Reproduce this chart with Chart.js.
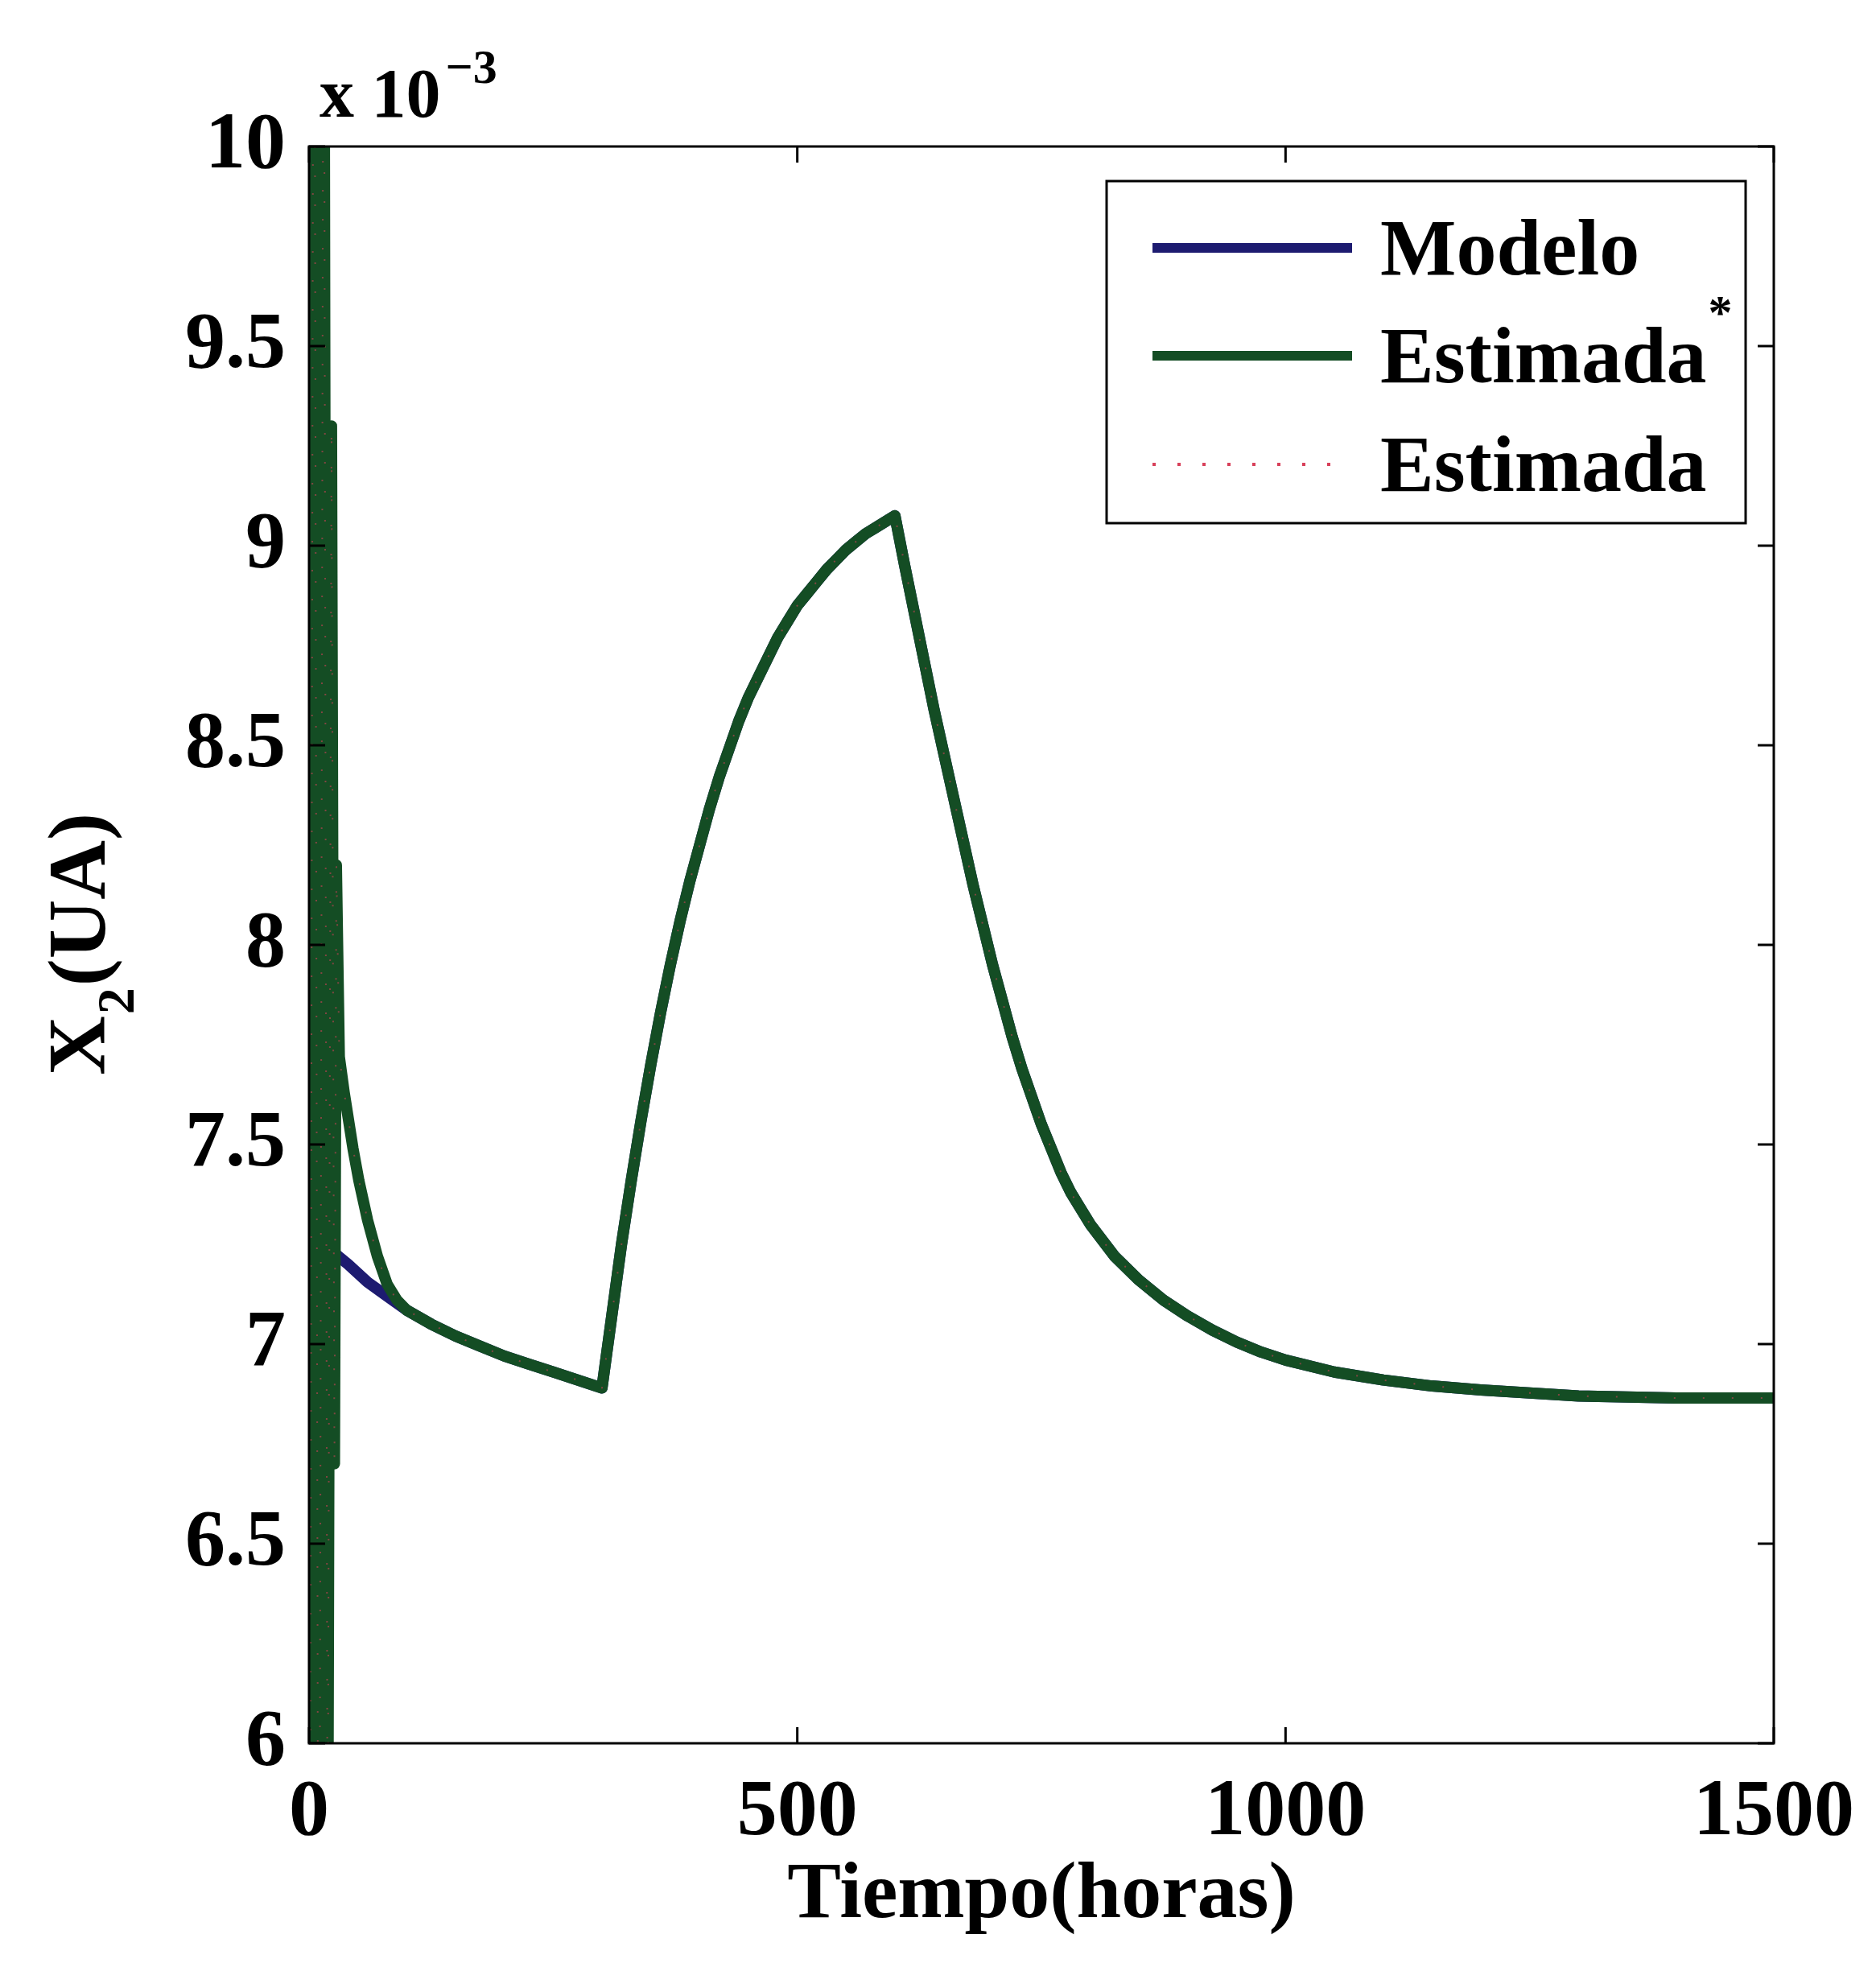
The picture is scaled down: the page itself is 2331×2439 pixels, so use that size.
<!DOCTYPE html>
<html>
<head>
<meta charset="utf-8">
<script src="https://cdn.jsdelivr.net/npm/chart.js@4.4.1/dist/chart.umd.min.js"></script>
<style>
  html, body { margin: 0; padding: 0; background: #fff; }
  canvas { display: block; }
</style>
</head>
<body>
<canvas id="grafica" width="2331" height="2439"></canvas>
<script>
// X2 (x 10^-3 UA) frente al tiempo en horas
const tiempoModelo = [0, 20, 40, 60, 80, 100, 125, 150, 175, 200, 225, 250, 275, 300,
  310, 320, 330, 340, 350, 360, 370, 380, 390, 400, 410, 420, 430, 440, 450,
  460, 470, 480, 490, 500, 510, 520, 530, 540, 550, 560, 570, 580, 590, 600,
  610, 620, 630, 640, 650, 660, 670, 680, 690, 700, 710, 720, 730, 740, 750,
  760, 770, 780, 790, 800,
  825, 850, 875, 900, 925, 950, 975, 1000, 1050, 1100, 1150, 1200, 1300, 1400, 1500];
const x2Modelo = [7.27, 7.24, 7.20, 7.155, 7.12, 7.085, 7.05, 7.02, 6.995, 6.97, 6.95, 6.93, 6.91, 6.89,
  7.07, 7.25, 7.41, 7.56, 7.70, 7.83, 7.95, 8.06, 8.16, 8.25, 8.34, 8.42, 8.49, 8.56, 8.62,
  8.67, 8.72, 8.77, 8.81, 8.85, 8.88, 8.91, 8.94, 8.965, 8.99, 9.01, 9.03, 9.045, 9.06, 9.075,
  8.95, 8.83, 8.71, 8.59, 8.48, 8.37, 8.26, 8.15, 8.05, 7.95, 7.86, 7.77, 7.69, 7.62, 7.55,
  7.49, 7.43, 7.38, 7.34, 7.30,
  7.22, 7.16, 7.11, 7.07, 7.035, 7.005, 6.98, 6.96, 6.93, 6.91, 6.895, 6.885, 6.87, 6.865, 6.865];

// estimador: transitorio inicial; desde t = 100 h coincide con el modelo
const tiempoTransitorio = [0, 5, 10, 15, 19, 23, 26, 28, 31, 36, 45, 51, 60, 70, 80, 90];
const x2Transitorio = [4.0, 11.5, 4.5, 11.0, 5.5, 9.3, 6.7, 8.2, 7.72, 7.63, 7.49, 7.41, 7.31, 7.22, 7.15, 7.11];
const desde = tiempoModelo.indexOf(100);
const tiempoEstimada = tiempoTransitorio.concat(tiempoModelo.slice(desde));
const x2EstimadaAst = x2Transitorio.concat(x2Modelo.slice(desde));
// las dos estimaciones coinciden a esta escala
const x2Estimada = x2EstimadaAst;

const xTicks = [0, 500, 1000, 1500];
const yTicks = [6, 6.5, 7, 7.5, 8, 8.5, 9, 9.5, 10];
const nombres = ['Modelo', 'Estimada', 'Estimada'];
const colores = ['#1d1b70', '#144d24', '#d8405a'];

const FUENTE = '"Liberation Serif", "Times New Roman", serif';

const puntos = (ts, vs) => ts.map((t, i) => ({ x: t, y: vs[i] }));

// marco tipo MATLAB: caja, marcas hacia dentro, leyenda, etiqueta Y y exponente
const marco = {
  id: 'marco',
  afterDatasetsDraw(chart) {
    const { ctx, chartArea: a, scales: { x, y } } = chart;
    const L = 20;
    ctx.save();
    ctx.strokeStyle = '#000';
    ctx.lineWidth = 3;
    ctx.strokeRect(a.left, a.top, a.right - a.left, a.bottom - a.top);
    ctx.beginPath();
    xTicks.forEach(v => {
      const px = x.getPixelForValue(v);
      ctx.moveTo(px, a.bottom); ctx.lineTo(px, a.bottom - L);
      ctx.moveTo(px, a.top); ctx.lineTo(px, a.top + L);
    });
    yTicks.forEach(v => {
      const py = y.getPixelForValue(v);
      ctx.moveTo(a.left, py); ctx.lineTo(a.left + L, py);
      ctx.moveTo(a.right, py); ctx.lineTo(a.right - L, py);
    });
    ctx.stroke();
    ctx.restore();
  },
  afterDraw(chart) {
    const { ctx, chartArea: a } = chart;
    ctx.save();

    // leyenda
    const caja = { l: 1375, t: 225, r: 2169, b: 650 };
    ctx.fillStyle = '#fff';
    ctx.fillRect(caja.l, caja.t, caja.r - caja.l, caja.b - caja.t);
    ctx.strokeStyle = '#000';
    ctx.lineWidth = 3;
    ctx.strokeRect(caja.l, caja.t, caja.r - caja.l, caja.b - caja.t);
    const filas = [308, 442, 577];
    chart.data.datasets.forEach((ds, i) => {
      const yy = filas[i];
      ctx.beginPath();
      ctx.strokeStyle = colores[i];
      ctx.lineWidth = i === 2 ? 4 : 12;
      ctx.setLineDash(i === 2 ? [4, 27] : []);
      ctx.moveTo(1432, yy); ctx.lineTo(1680, yy);
      ctx.stroke();
      ctx.setLineDash([]);
      ctx.fillStyle = '#000';
      ctx.font = 'bold 100px ' + FUENTE;
      ctx.textBaseline = 'alphabetic';
      ctx.textAlign = 'left';
      ctx.fillText(nombres[i], 1715, yy + 33);
      if (i === 1) {
        const w = ctx.measureText(nombres[i]).width;
        ctx.font = 'bold 60px ' + FUENTE;
        ctx.fillText('*', 1715 + w + 2, yy - 34);
      }
    });

    // etiqueta del eje Y con subíndice
    ctx.save();
    ctx.translate(130, 1336);
    ctx.rotate(-Math.PI / 2);
    ctx.fillStyle = '#000';
    ctx.textBaseline = 'alphabetic';
    ctx.textAlign = 'left';
    ctx.font = 'bold 102px ' + FUENTE;
    ctx.fillText('X', 0, 0);
    let px = ctx.measureText('X').width;
    ctx.font = 'bold 66px ' + FUENTE;
    ctx.fillText('2', px + 2, 36);
    px += ctx.measureText('2').width + 4;
    ctx.font = 'bold 102px ' + FUENTE;
    ctx.fillText('(UA)', px, 0);
    ctx.restore();

    // factor de escala sobre el eje Y
    ctx.fillStyle = '#000';
    ctx.font = 'bold 86px ' + FUENTE;
    ctx.textBaseline = 'alphabetic';
    ctx.textAlign = 'left';
    ctx.fillText('x 10', a.left + 13, 145);
    const wx = ctx.measureText('x 10').width;
    ctx.font = 'bold 60px ' + FUENTE;
    ctx.fillText('\u22123', a.left + 13 + wx + 6, 103);
    ctx.restore();
  }
};

const fuenteEje = { family: FUENTE, size: 100, weight: 'bold' };

new Chart(document.getElementById('grafica'), {
  type: 'line',
  data: {
    datasets: [
      { label: nombres[0], data: puntos(tiempoModelo, x2Modelo), borderColor: colores[0],
        borderWidth: 14, order: 3, clip: 0 },
      { label: nombres[1] + '*', data: puntos(tiempoEstimada, x2EstimadaAst), borderColor: colores[1],
        borderWidth: 14, order: 2, clip: 0 },
      { label: nombres[2], data: puntos(tiempoEstimada, x2Estimada), borderColor: 'rgba(216,64,90,0.55)',
        borderWidth: 2, borderDash: [2, 34], order: 1, clip: 0 }
    ]
  },
  options: {
    responsive: false,
    animation: false,
    devicePixelRatio: 1,
    layout: { padding: { left: 0, top: 182, right: 120, bottom: 0 } },
    elements: {
      point: { radius: 0 },
      line: { tension: 0, fill: false, borderJoinStyle: 'round', borderCapStyle: 'butt' }
    },
    plugins: { legend: { display: false }, tooltip: { enabled: false } },
    scales: {
      x: {
        type: 'linear', min: 0, max: 1500,
        afterBuildTicks: s => { s.ticks = xTicks.map(v => ({ value: v })); },
        ticks: { font: fuenteEje, color: '#000', padding: 27, maxRotation: 0,
                 callback: v => String(v) },
        grid: { display: false, drawTicks: false },
        border: { display: false },
        title: { display: true, text: 'Tiempo(horas)', font: fuenteEje, color: '#000',
                 padding: { top: 0, bottom: 23 } },
        afterFit: s => { s.height = 273; }
      },
      y: {
        type: 'linear', min: 6, max: 10,
        afterBuildTicks: s => { s.ticks = yTicks.map(v => ({ value: v })); },
        ticks: { font: fuenteEje, color: '#000', padding: 29, callback: v => String(v) },
        grid: { display: false, drawTicks: false },
        border: { display: false },
        afterFit: s => { s.width = 384; }
      }
    }
  },
  plugins: [marco]
});
</script>
</body>
</html>
